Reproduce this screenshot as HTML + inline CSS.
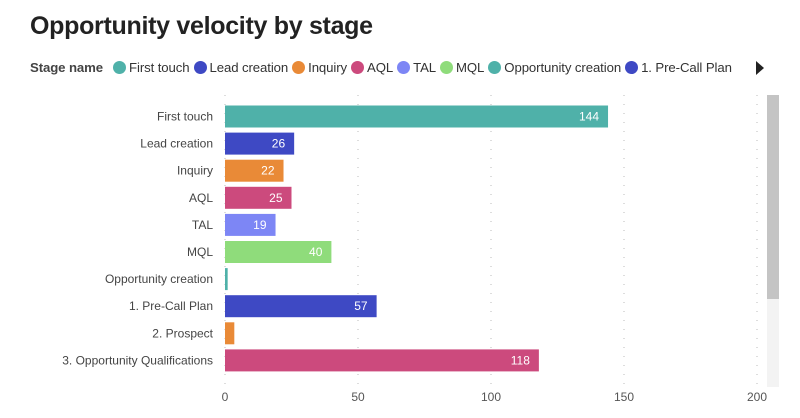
<!DOCTYPE html>
<html><head><meta charset="utf-8"><style>
body{margin:0;width:800px;height:418px;background:#fff;font-family:"Liberation Sans",sans-serif;overflow:hidden;position:relative}
#title{position:absolute;left:30px;top:12px;font-size:25px;font-weight:bold;color:#222;letter-spacing:-0.3px}
#legend{position:absolute;left:30px;top:60px;font-size:13.2px;letter-spacing:-0.1px;color:#333;display:flex;align-items:center;white-space:nowrap}
.li{display:flex;align-items:center;margin-right:4px}
.dot{width:13px;height:13px;border-radius:50%;margin-right:3px}
</style></head><body>
<div id="title">Opportunity velocity by stage</div>
<div id="legend"><b style="margin-right:10px;color:#444">Stage name</b></div>
<div style="position:absolute;left:756px;top:61px;width:0;height:0;border-top:7px solid transparent;border-bottom:7px solid transparent;border-left:8px solid #222"></div>
<svg id="chart" width="800" height="418" style="position:absolute;left:0;top:0"></svg>
<script>
const categories=["First touch","Lead creation","Inquiry","AQL","TAL","MQL","Opportunity creation","1. Pre-Call Plan","2. Prospect","3. Opportunity Qualifications"];
const values=[144,26,22,25,19,40,1,57,3.5,118];
const labels=["144","26","22","25","19","40","","57","","118"];
const colors=["#4fb1a9","#3e49c4","#e98a37","#cc4a7d","#7d86f5","#8fdc7b","#4fb1a9","#3e49c4","#e98a37","#cc4a7d"];
const ticks=[0,50,100,150,200];
const legendItems=["First touch","Lead creation","Inquiry","AQL","TAL","MQL","Opportunity creation","1. Pre-Call Plan"];
const NS="http://www.w3.org/2000/svg";
const svg=document.getElementById('chart');
const x=v=>225+v*(757-225)/200;
const y=i=>116.5+i*27.1;
function mk(t,a,p){const e=document.createElementNS(NS,t);for(const k in a)e.setAttribute(k,a[k]);(p||svg).appendChild(e);return e;}
ticks.forEach(t=>{
 const g=mk('line',{x1:x(t),x2:x(t),y1:95,y2:388,stroke:'#bbb','stroke-dasharray':'1 8'});
 
 
 const tx=mk('text',{x:x(t),y:401,'text-anchor':'middle','font-size':12,fill:'#555'});tx.textContent=t;
 
 
});
categories.forEach((c,i)=>{
 const l=mk('text',{x:213,y:y(i)+4,'text-anchor':'end','font-size':12,fill:'#444'});l.textContent=c;
 
 
 const r=mk('rect',{x:x(0),y:y(i)-11,width:Math.max(2,x(values[i])-x(0)),height:22,fill:colors[i]});
 
 
 if(labels[i]){const v=mk('text',{x:x(values[i])-9,y:y(i)+4,'text-anchor':'end','font-size':12,fill:'#fff'});v.textContent=labels[i];
 
 }
});
const tr=mk('rect',{x:767,y:95,width:12,height:292,fill:'#f3f3f3'});


const th=mk('rect',{x:767,y:95,width:12,height:204,fill:'#c4c4c4'});


const lg=document.getElementById('legend');
legendItems.forEach((n,i)=>{
 const d=document.createElement('span');d.className='li';
 
 
 d.innerHTML='<span class="dot" style="background:'+colors[i]+'"></span>'+n;
 lg.appendChild(d);
});
</script>
</body></html>
